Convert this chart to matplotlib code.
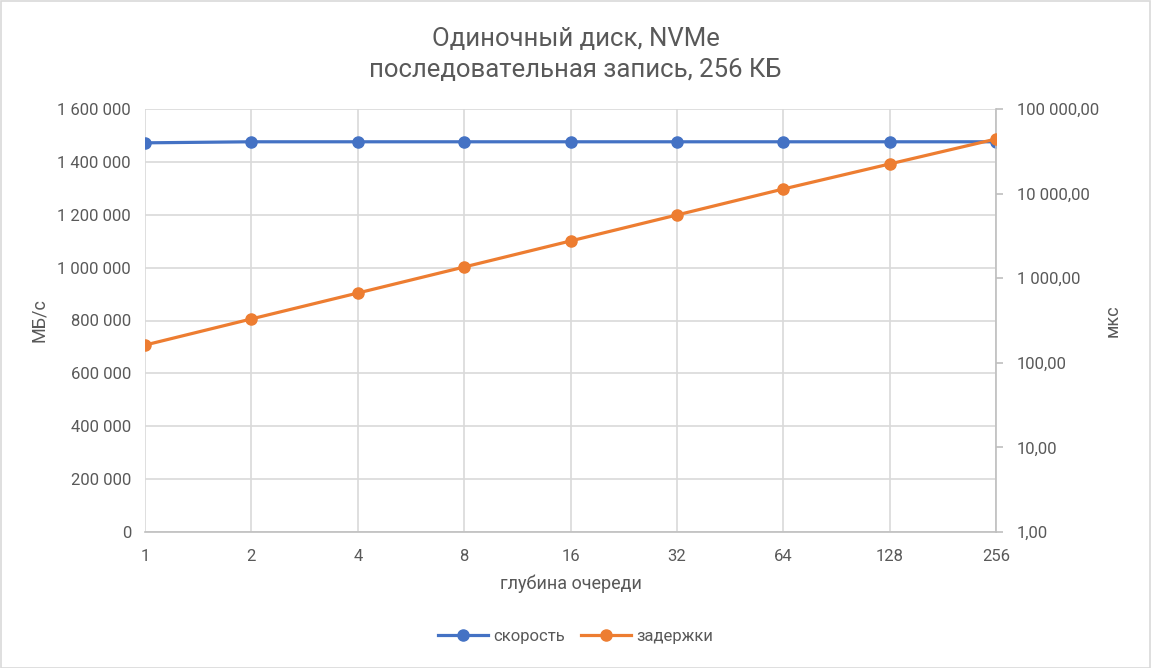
import numpy as np
import matplotlib.pyplot as plt
from matplotlib.ticker import FuncFormatter, FixedLocator, NullLocator
from matplotlib.patches import Rectangle

plt.rcParams['font.family'] = ['Roboto', 'DejaVu Sans']

# data
queue_depth = ['1', '2', '4', '8', '16', '32', '64', '128', '256']
speed = [1472000, 1476000, 1476000, 1476000, 1476000, 1476000, 1476000, 1476000, 1476000]
latency = [162, 330, 668, 1356, 2754, 5585, 11330, 22400, 44200]

TXT = '#595959'
GRID = '#D9D9D9'
BLUE = '#4472C4'
ORANGE = '#ED7D31'

fig = plt.figure(figsize=(11.51, 6.68), dpi=100)
# chart area border
fig.patches.append(Rectangle((0.5 / 1151, 0.5 / 668), 1 - 1.5 / 1151, 1 - 1.5 / 668,
                             transform=fig.transFigure, fill=False,
                             edgecolor='#D9D9D9', lw=1.2))

ax = fig.add_axes([145 / 1151, 1 - 532 / 668, (996 - 145) / 1151, (532 - 109) / 668])
ax2 = ax.twinx()

x = np.arange(len(queue_depth))

l1, = ax.plot(x, speed, '-o', color=BLUE, lw=2.3, ms=8, label='скорость', zorder=3)
l2, = ax2.plot(x, latency, '-o', color=ORANGE, lw=2.3, ms=8, label='задержки', zorder=3)

ax.set_xlim(0, len(queue_depth) - 1)
ax.set_ylim(0, 1600000)
ax.set_yticks(np.arange(0, 1600001, 200000))
ax.yaxis.set_major_formatter(FuncFormatter(lambda v, p: f'{int(v):,}'.replace(',', ' ')))
ax.set_xticks(x)
ax.set_xticklabels(queue_depth)
ax.grid(True, color=GRID, lw=1.2)
ax.set_axisbelow(True)

ax2.set_yscale('log')
ax2.set_ylim(1, 100000)
ax2.yaxis.set_major_locator(FixedLocator([1, 10, 100, 1000, 10000, 100000]))
ax2.yaxis.set_minor_locator(NullLocator())
ax2.yaxis.set_major_formatter(FuncFormatter(
    lambda v, p: f'{int(round(v)):,}'.replace(',', ' ') + ',00'))

for a in (ax, ax2):
    for s in a.spines.values():
        s.set_visible(False)
ax.spines['bottom'].set_visible(True)
ax.spines['bottom'].set_color('#BFBFBF')
ax.spines['bottom'].set_linewidth(1.2)
ax2.spines['right'].set_visible(True)
ax2.spines['right'].set_color('#BFBFBF')
ax2.spines['right'].set_linewidth(1.2)

ax.tick_params(axis='both', length=0, labelsize=12, labelcolor=TXT, pad=10)
ax.tick_params(axis='x', pad=12)
ax2.tick_params(axis='y', length=5, width=1.2, color='#BFBFBF', labelsize=12,
                labelcolor=TXT, pad=10)
ax2.set_zorder(ax.get_zorder() + 1)

ax.set_xlabel('глубина очереди', fontsize=13, color=TXT, labelpad=8)
ax.set_ylabel('МБ/с', fontsize=13, color=TXT)
ax.yaxis.set_label_coords(-0.114, 0.5)
ax2.set_ylabel('мкс', fontsize=13, color=TXT)
ax2.yaxis.set_label_coords(1.127, 0.5)

fig.suptitle('Одиночный диск, NVMe\nпоследовательная запись, 256 КБ',
             fontsize=18.5, color=TXT, y=0.96, linespacing=1.4)

fig.legend(handles=[l1, l2], loc='center', bbox_to_anchor=(0.5, 1 - 636 / 668),
           ncol=2, frameon=False, fontsize=12, labelcolor=TXT,
           handlelength=3, columnspacing=1.0, handletextpad=0.3)

fig.savefig('out.png', dpi=100)
